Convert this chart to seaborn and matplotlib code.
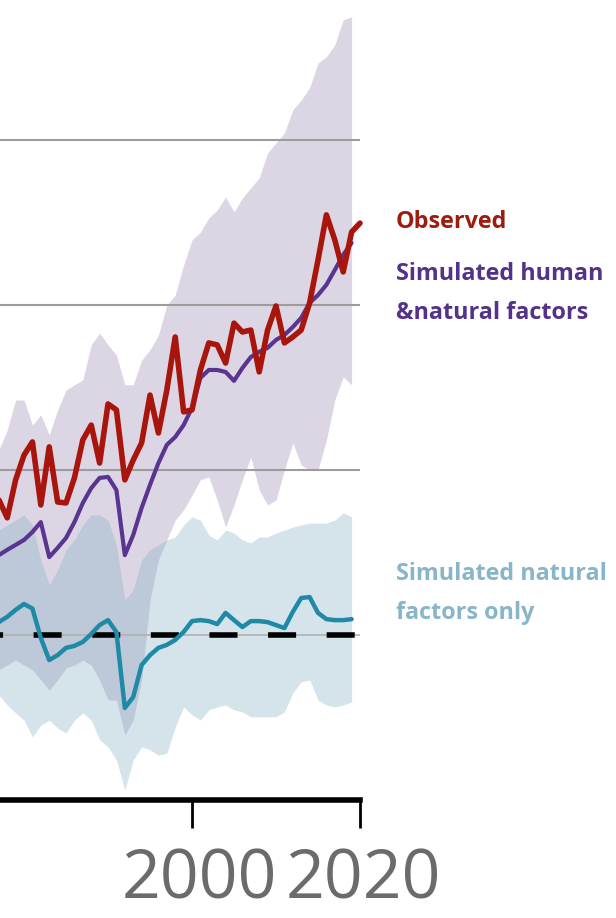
import numpy as np
import pandas as pd
import matplotlib.pyplot as plt
import seaborn as sns
from matplotlib.transforms import ScaledTranslation

# annual values, degC relative to 1850-1900
obs_years = list(range(1977, 2021))
observed = [0.41, 0.355, 0.47, 0.545, 0.585, 0.394, 0.57, 0.403, 0.40, 0.476,
            0.591, 0.636, 0.521, 0.70, 0.682, 0.47, 0.53, 0.582, 0.727, 0.612,
            0.742, 0.903, 0.676, 0.682, 0.803, 0.885, 0.879, 0.824, 0.945, 0.918,
            0.924, 0.797, 0.924, 0.997, 0.885, 0.903, 0.924, 1.006, 1.136, 1.273,
            1.197, 1.10, 1.221, 1.248]

sim_years = list(range(1977, 2020))
human_natural = [0.242, 0.258, 0.273, 0.288, 0.312, 0.342, 0.236, 0.264, 0.294, 0.342,
                 0.40, 0.445, 0.476, 0.479, 0.439, 0.242, 0.303, 0.385, 0.455, 0.521,
                 0.576, 0.60, 0.636, 0.688, 0.779, 0.803, 0.803, 0.797, 0.770, 0.809,
                 0.842, 0.858, 0.870, 0.894, 0.909, 0.933, 0.961, 1.006, 1.030, 1.061,
                 1.106, 1.152, 1.188]
human_natural_hi = [0.561, 0.621, 0.712, 0.712, 0.636, 0.667, 0.606, 0.682, 0.742, 0.758,
                    0.773, 0.879, 0.915, 0.879, 0.848, 0.758, 0.758, 0.833, 0.864, 0.909,
                    1.0, 1.03, 1.121, 1.197, 1.221, 1.264, 1.288, 1.327, 1.282, 1.324,
                    1.355, 1.385, 1.461, 1.491, 1.521, 1.591, 1.621, 1.658, 1.733, 1.752,
                    1.788, 1.864, 1.873]
human_natural_lo = [-0.106, -0.091, -0.076, -0.091, -0.106, -0.136, -0.167, -0.136, -0.100, -0.091,
                    -0.076, -0.091, -0.136, -0.197, -0.197, -0.303, -0.258, -0.136, 0.106, 0.227,
                    0.288, 0.348, 0.379, 0.424, 0.470, 0.479, 0.409, 0.327, 0.394, 0.470,
                    0.539, 0.439, 0.394, 0.409, 0.50, 0.582, 0.515, 0.50, 0.50, 0.591,
                    0.712, 0.782, 0.758]

natural_only = [0.039, 0.055, 0.076, 0.094, 0.080, -0.009, -0.076, -0.061, -0.039, -0.033,
                -0.021, 0.003, 0.030, 0.045, 0.009, -0.221, -0.188, -0.091, -0.061, -0.039,
                -0.030, -0.015, 0.009, 0.042, 0.045, 0.042, 0.033, 0.067, 0.045, 0.024,
                0.042, 0.042, 0.039, 0.030, 0.021, 0.070, 0.112, 0.115, 0.067, 0.048,
                0.045, 0.045, 0.048]
natural_hi = [0.318, 0.333, 0.348, 0.364, 0.333, 0.227, 0.152, 0.197, 0.258, 0.288,
              0.333, 0.364, 0.364, 0.348, 0.273, 0.106, 0.136, 0.227, 0.258, 0.273,
              0.288, 0.297, 0.333, 0.358, 0.348, 0.303, 0.288, 0.318, 0.309, 0.288,
              0.279, 0.297, 0.297, 0.309, 0.318, 0.327, 0.333, 0.339, 0.339, 0.339,
              0.348, 0.370, 0.358]
natural_lo = [-0.182, -0.212, -0.236, -0.258, -0.309, -0.273, -0.258, -0.282, -0.297, -0.258,
              -0.236, -0.258, -0.318, -0.339, -0.379, -0.470, -0.379, -0.339, -0.348, -0.364,
              -0.358, -0.279, -0.218, -0.242, -0.258, -0.227, -0.218, -0.212, -0.227, -0.233,
              -0.248, -0.248, -0.248, -0.248, -0.233, -0.176, -0.142, -0.136, -0.197, -0.212,
              -0.218, -0.212, -0.203]

grid_levels = [0.5, 1.0, 1.5]
tick_years = [2000, 2020]
tick_labels = ["2000", "2020"]

RED = "#a8150d"
PURPLE = "#5a3491"
TEAL = "#1f8aa6"

sns.set_theme(style="white")
plt.rcParams['font.family'] = ['Open Sans', 'DejaVu Sans']

fig = plt.figure(figsize=(6.16, 9.18), dpi=100)
ax = fig.add_axes([0, 118 / 918, 360 / 616, 800 / 918])

# model ranges
ax.fill_between(sim_years, human_natural_lo, human_natural_hi, color="#dcd6e4", lw=0, zorder=1)
ax.fill_between(sim_years, natural_lo, natural_hi, color="#76a8bd", alpha=0.3, lw=0, zorder=2)

for g in grid_levels:
    ax.axhline(g, color="#9c9c9c", lw=1.5, zorder=3)
ax.axhline(0, color="#b0b0b0", lw=1.2, zorder=3)
ax.axhline(0, color="black", lw=4, linestyle=(4.5, (5.05, 5.5)), zorder=4)

df_obs = pd.DataFrame({"year": obs_years, "value": observed})
df_hn = pd.DataFrame({"year": sim_years, "value": human_natural})
df_nat = pd.DataFrame({"year": sim_years, "value": natural_only})

sns.lineplot(data=df_nat, x="year", y="value", color=TEAL, lw=3.2, ax=ax, zorder=5)
sns.lineplot(data=df_hn, x="year", y="value", color=PURPLE, lw=3.0, ax=ax, zorder=6)
sns.lineplot(data=df_obs, x="year", y="value", color=RED, lw=4.0, ax=ax, zorder=7,
             solid_capstyle="round", clip_on=False)

ax.set_xlim(1977.14, 2020)
ax.set_ylim(-0.5, 1.924)
ax.set_xlabel("")
ax.set_ylabel("")
ax.set_yticks([])
ax.set_xticks(tick_years, tick_labels)
for s in ["left", "top", "right"]:
    ax.spines[s].set_visible(False)
ax.spines["bottom"].set_linewidth(4)
ax.spines["bottom"].set_color("black")
ax.tick_params(axis="x", direction="out", length=20, width=2, color="black",
               labelsize=49, labelcolor="#6b6b6b", pad=14, bottom=True)

# the two year labels sit a little right of their ticks and touch each other
for lab, dx in zip(ax.get_xticklabels(), [0.07, 0.03]):
    lab.set_transform(lab.get_transform() + ScaledTranslation(dx, 0, fig.dpi_scale_trans))

label_kw = dict(fontsize=16.8, fontweight="bold", va="baseline", ha="left")
fig.text(396 / 616, 1 - 228 / 918, "Observed", color="#9e1b0e", **label_kw)
fig.text(396 / 616, 1 - 280 / 918, "Simulated human", color="#54328a", **label_kw)
fig.text(396 / 616, 1 - 319 / 918, "&natural factors", color="#54328a", **label_kw)
fig.text(396 / 616, 1 - 580 / 918, "Simulated natural", color="#87b5ca", **label_kw)
fig.text(396 / 616, 1 - 619 / 918, "factors only", color="#87b5ca", **label_kw)

fig.savefig("out.png", dpi=100, facecolor="white")
